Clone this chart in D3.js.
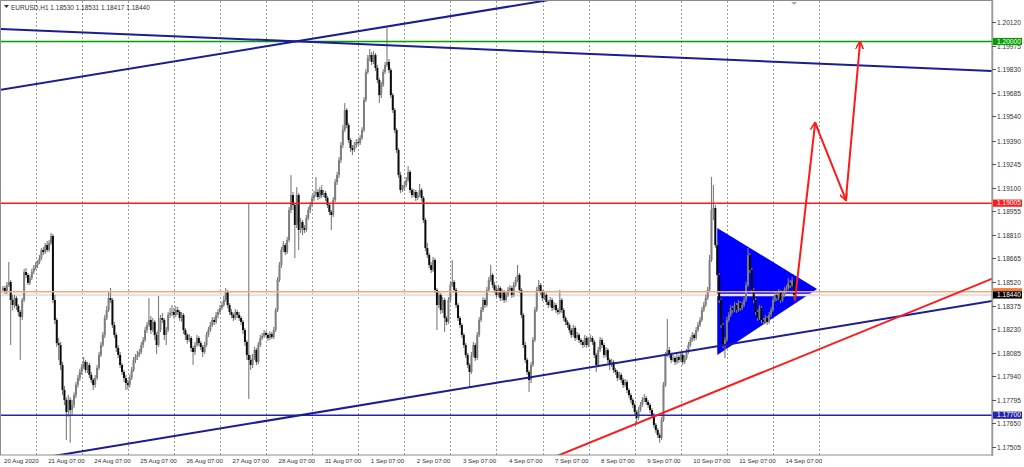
<!DOCTYPE html>
<html>
<head>
<meta charset="utf-8">
<script src="https://cdnjs.cloudflare.com/ajax/libs/d3/7.8.5/d3.min.js"></script>
<style>
  body { margin: 0; background: #fff; }
  svg { display: block; }
  text { font-family: "Liberation Sans", Arial, sans-serif; fill: #333; }
</style>
</head>
<body>
<svg id="chart" width="1024" height="467"></svg>
<script>
// EURUSD H1, prices in points: 18440 means 1.18440
var symbol = "EURUSD,H1";
var firstOpen = 18470;

var closes = [
  18483,18458,18501,18520,18409,18378,18421,18372,18335,18304,18409,18581,18563,18514,18544,18581,
  18606,18624,18643,18667,18717,18704,18747,18717,18760,18803,18409,18286,18144,18132,18009,17855,17794,17720,17794,17732,17763,17824,17886,17929,
  17966,17997,18028,17978,18009,17948,17917,17886,17929,17991,18071,18132,18194,18298,18347,18421,18409,18255,18194,18114,18071,18009,17966,17929,
  17898,17886,17929,17978,18040,18058,18071,18089,18132,18163,18224,18255,18286,18224,18274,18194,18132,18224,18298,18286,18194,18224,18317,18329,
  18335,18317,18347,18335,18298,18317,18224,18194,18163,18175,18114,18089,18132,18175,18144,18120,18089,18132,18194,18224,18255,18286,18274,18317,
  18335,18360,18378,18409,18458,18378,18335,18317,18298,18335,18317,18298,18274,18224,18151,18071,18040,18009,18052,18101,18028,18132,18175,18188,
  18206,18194,18175,18200,18181,18224,18347,18532,18624,18717,18747,18704,18778,18963,19055,18994,18871,19055,18840,18889,18852,18840,18914,18963,
  18994,19037,19055,19074,19043,19086,19055,19067,19037,18994,18951,18932,19024,19135,19178,19270,19363,19455,19578,19486,19394,19344,19332,19363,
  19381,19375,19406,19455,19640,19812,19898,19917,19874,19917,19837,19763,19670,19732,19812,19855,19874,19824,19670,19578,19455,19332,19178,19086,
  19098,19117,19147,19197,19086,19055,19074,19037,19055,19086,19037,18901,18729,18686,18624,18594,18655,18471,18378,18440,18347,18409,18298,18274,
  18409,18501,18520,18471,18378,18298,18255,18194,18132,18071,18009,17966,18071,18132,18052,18194,18286,18347,18409,18378,18471,18532,18563,18501,
  18471,18440,18483,18421,18458,18409,18440,18471,18483,18440,18501,18532,18563,18471,18317,18132,18040,17966,17917,18009,18163,18347,18471,18501,
  18458,18421,18440,18397,18378,18409,18360,18378,18347,18335,18409,18347,18298,18274,18255,18224,18194,18237,18175,18194,18163,18151,18132,18175,
  18132,18163,18175,18151,18071,18009,18101,18163,18132,18071,18101,18040,18009,18028,17978,17966,17929,17948,17917,17886,17904,17855,17824,17794,
  17763,17720,17683,17732,17763,17794,17806,17781,17763,17732,17701,17640,17609,17578,17560,17671,17886,18071,18101,18071,18040,18052,18028,18058,
  18040,18071,18028,18052,18089,18132,18163,18194,18175,18224,18255,18286,18347,18378,18421,18471,18655,18963,18975,18747,18563,18409,18255,18132,
  18163,18286,18317,18360,18347,18378,18347,18391,18360,18378,18409,18501,18686,18594,18471,18409,18335,18298,18360,18286,18274,18298,18274,18317,
  18347,18409,18440,18421,18458,18409,18440,18471,18483,18514,18501,18530,18440
];

var highs = [
  18495,18495,18520,18643,18532,18440,18440,18433,18384,18347,18421,18600,18606,18575,18563,18600,
  18624,18643,18655,18686,18729,18735,18760,18772,18778,18821,18815,18440,18298,18175,18151,18028,17880,17810,17824,17810,17794,17840,17904,17948,
  17985,18015,18058,18040,18028,18021,17966,17929,17948,18009,18089,18151,18212,18317,18372,18458,18483,18421,18274,18206,18132,18089,18021,17978,
  17948,17917,17948,17997,18058,18077,18095,18108,18151,18181,18243,18274,18421,18310,18298,18286,18212,18433,18317,18329,18298,18243,18335,18360,
  18378,18360,18372,18366,18347,18335,18329,18237,18206,18200,18187,18126,18151,18194,18187,18157,18132,18151,18212,18243,18274,18304,18304,18335,
  18353,18378,18397,18433,18483,18470,18390,18353,18329,18353,18347,18335,18310,18286,18237,18163,19006,18071,18077,18120,18114,18151,18194,18206,
  18224,18218,18206,18218,18212,18243,18360,18550,18643,18735,18772,18760,18797,18981,19178,19074,19006,19104,19067,18914,18901,18870,18932,18981,
  19012,19055,19080,19166,19092,19104,19117,19086,19080,19049,19006,18963,19043,19154,19197,19289,19381,19486,19621,19590,19498,19406,19363,19381,
  19400,19400,19424,19473,19658,19830,19917,19953,19935,19941,19929,19855,19775,19751,19830,19874,20083,19892,19837,19683,19590,19467,19344,19197,
  19117,19135,19166,19234,19209,19098,19092,19086,19074,19123,19098,19049,18914,18760,18698,18643,18674,18667,18483,18458,18452,18427,18421,18310,
  18427,18520,18655,18532,18483,18390,18310,18267,18206,18144,18083,18021,18089,18151,18144,18212,18304,18366,18427,18421,18489,18550,18625,18575,
  18520,18489,18501,18495,18477,18470,18458,18489,18501,18495,18520,18550,18625,18575,18483,18329,18151,18052,17978,18028,18181,18366,18489,18532,
  18514,18470,18458,18452,18409,18427,18421,18397,18390,18360,18471,18421,18360,18310,18286,18267,18237,18255,18249,18212,18206,18175,18163,18194,
  18187,18181,18194,18187,18163,18083,18120,18181,18175,18144,18120,18114,18052,18046,18040,17991,17978,17966,17960,17929,17923,17917,17867,17837,
  17806,17775,17732,17751,17781,17812,17830,17818,17794,17775,17745,17714,17652,17621,17591,17690,17904,18089,18292,18120,18083,18071,18064,18077,
  18071,18089,18083,18071,18108,18151,18181,18212,18206,18243,18274,18304,18366,18397,18440,18489,18686,19166,19117,18994,18766,18575,18421,18267,
  18181,18304,18335,18378,18372,18397,18390,18409,18403,18397,18427,18520,18729,18698,18606,18483,18421,18347,18378,18372,18298,18317,18310,18335,
  18366,18427,18458,18452,18477,18470,18458,18489,18501,18544,18532,18550,18531
];

var lows = [
  18458,18446,18446,18489,18132,18347,18360,18347,18310,18040,18286,18397,18544,18501,18501,18532,
  18569,18594,18606,18630,18655,18686,18692,18704,18704,18747,18390,18260,18120,18040,17978,17824,17763,17548,17690,17530,17700,17745,17806,17870,
  17910,17948,17985,17960,17960,17929,17898,17855,17870,17917,17978,18058,18120,18175,18286,18335,18390,18237,18175,18089,18052,17991,17948,17904,
  17855,17860,17870,17917,17966,18021,18040,18058,18077,18114,18151,18206,18243,18200,18212,18163,18077,18120,18212,18267,18163,18132,18212,18298,
  18310,18298,18304,18317,18280,18274,18200,18163,18140,18151,18089,18009,18071,18120,18126,18101,18058,18077,18120,18181,18212,18243,18255,18261,
  18298,18323,18347,18366,18397,18360,18317,18298,18280,18286,18298,18280,18255,18200,18126,18040,17800,17978,17991,18040,18009,18015,18120,18163,
  18175,18181,18157,18163,18169,18169,18212,18335,18520,18606,18704,18686,18692,18766,18944,18963,18667,18852,18717,18821,18809,18821,18827,18901,
  18944,18981,19018,19043,19024,19030,19037,19043,19018,18975,18932,18840,18920,19012,19117,19160,19252,19344,19443,19467,19375,19320,19301,19320,
  19344,19357,19363,19394,19443,19627,19800,19880,19855,19861,19818,19745,19621,19652,19720,19800,19843,19806,19652,19560,19437,19314,19160,19067,
  19074,19080,19104,19135,19067,19037,19043,19018,19024,19043,19018,18883,18710,18667,18606,18575,18581,18452,18224,18360,18323,18329,18212,18255,
  18261,18397,18489,18452,18360,18280,18237,18175,18114,18052,17991,17870,17954,18058,18034,18040,18181,18274,18335,18360,18366,18458,18520,18483,
  18452,18421,18427,18403,18403,18390,18397,18427,18458,18421,18427,18489,18520,18452,18298,18114,18021,17948,17843,17898,17997,18151,18335,18458,
  18440,18403,18409,18378,18360,18366,18341,18347,18329,18317,18323,18329,18280,18255,18237,18206,18175,18181,18157,18163,18144,18132,18114,18120,
  18114,18120,18151,18132,18052,17966,17997,18089,18114,18052,18058,18021,17978,17997,17960,17948,17910,17917,17898,17867,17873,17837,17806,17775,
  17745,17701,17640,17671,17720,17751,17781,17763,17745,17714,17683,17621,17591,17560,17530,17548,17658,17873,18058,18052,18021,18028,18009,18015,
  18021,18028,18009,18015,18040,18077,18120,18151,18157,18163,18212,18243,18274,18335,18366,18409,18458,18643,18900,18729,18544,18390,18237,18114,
  18052,18151,18274,18304,18329,18335,18329,18335,18341,18347,18366,18397,18489,18575,18452,18390,18317,18280,18286,18267,18255,18261,18255,18261,
  18304,18335,18397,18403,18409,18390,18397,18427,18458,18470,18483,18489,18417
];

var priceTicks = [1.20120, 1.19975, 1.19830, 1.19685, 1.19540, 1.19390, 1.19245, 1.19100, 1.18955,
  1.18810, 1.18665, 1.18520, 1.18375, 1.18230, 1.18085, 1.17940, 1.17795, 1.17650, 1.17505];

var timeLabels = ["20 Aug 2020", "21 Aug 07:00", "24 Aug 07:00", "25 Aug 07:00", "26 Aug 07:00",
  "27 Aug 07:00", "28 Aug 07:00", "31 Aug 07:00", "1 Sep 07:00", "2 Sep 07:00", "3 Sep 07:00",
  "4 Sep 07:00", "7 Sep 07:00", "8 Sep 07:00", "9 Sep 07:00", "10 Sep 07:00", "11 Sep 07:00", "14 Sep 07:00"];

// horizontal levels
var greenLevel = 1.20000, redLevel = 1.19005, orangeLevel = 1.18460, blueLevel = 1.17700;

// drawn objects, as [bar index, price]
var trendLines = [
  [[0, 1.19705], [278, 1.20243]],
  [[0, 1.20077], [515, 1.19819]],
  [[30, 1.17456], [515, 1.18403]]
];
var redTrend = [[290, 1.17456], [515, 1.18539]];
var triangle = [[372, 1.18852], [372, 1.18071], [424, 1.18477]];
var arrowPath = [[412.5, 1.18409], [423, 1.19499], [439, 1.19025], [446.4, 1.19997]];

(function() {
  var svg = d3.select("#chart");
  var left = 1, right = 992, top = 1, bottom = 455;
  var toPrice = function(p) { return 1 + p / 100000; };

  var bars = closes.map(function(c, i) {
    return { i: i, o: toPrice(i ? closes[i - 1] : firstOpen), h: toPrice(highs[i]), l: toPrice(lows[i]), c: toPrice(c) };
  });
  var last = bars[bars.length - 1];

  // trading hours, weekends skipped
  var times = [];
  var t = Date.UTC(2020, 7, 20, 8);
  while (times.length < 520) {
    var d = new Date(t), wd = d.getUTCDay();
    if (wd !== 0 && wd !== 6) times.push(d);
    t += 3600000;
  }
  var fmt = d3.utcFormat("%-d %b %H:%M");

  var x = d3.scaleLinear().domain([0, 515]).range([3, 3 + 515 * 1.92]);
  var y = d3.scaleLinear().domain([1.17455, 1.20243]).range([bottom, 2]);

  svg.append("rect").attr("width", 1024).attr("height", 467).attr("fill", "#fff");

  svg.append("clipPath").attr("id", "plot").append("rect")
    .attr("x", left).attr("y", top).attr("width", right - left).attr("height", bottom - top);
  var plot = svg.append("g").attr("clip-path", "url(#plot)");

  // vertical dotted grid
  var gridIdx = [];
  times.forEach(function(tm, i) { if (tm.getUTCHours() === 1 && i <= 430) gridIdx.push(i); });
  plot.selectAll("line.grid").data(gridIdx).enter().append("line")
    .attr("x1", function(d) { return Math.round(x(d)) + 0.5; })
    .attr("x2", function(d) { return Math.round(x(d)) + 0.5; })
    .attr("y1", top).attr("y2", bottom)
    .attr("stroke", "#9a9a9a").attr("stroke-width", 1).attr("stroke-dasharray", "2,2");

  // triangle behind candles
  plot.append("path")
    .attr("d", d3.line().x(function(d) { return x(d[0]); }).y(function(d) { return y(d[1]); })(triangle) + "Z")
    .attr("fill", "#0000ff");

  // bid line band
  plot.append("line").attr("x1", left).attr("x2", right)
    .attr("y1", y(last.c)).attr("y2", y(last.c))
    .attr("stroke", "#e4e4e4").attr("stroke-width", 2.5);

  // candles
  var cg = plot.append("g");
  cg.selectAll("rect.wick").data(bars).enter().append("rect")
    .attr("x", function(d) { return x(d.i) - 0.55; })
    .attr("width", 1.1)
    .attr("y", function(d) { return y(Math.max(d.h, d.o, d.c)); })
    .attr("height", function(d) { return Math.max(1, y(Math.min(d.l, d.o, d.c)) - y(Math.max(d.h, d.o, d.c))); })
    .attr("fill", "#7c7c7c");
  cg.selectAll("rect.body").data(bars).enter().append("rect")
    .attr("x", function(d) { return x(d.i) - 1; })
    .attr("width", 2)
    .attr("y", function(d) { return y(Math.max(d.o, d.c)); })
    .attr("height", function(d) { return Math.max(0.8, Math.abs(y(d.o) - y(d.c))); })
    .attr("fill", function(d) { return d.c >= d.o ? "#7e7e7e" : "#0a0a0a"; });

  // horizontal levels
  var hl = function(price, color) {
    plot.append("line").attr("x1", left).attr("x2", right)
      .attr("y1", y(price)).attr("y2", y(price))
      .attr("stroke", color).attr("stroke-width", 1.5);
  };
  hl(greenLevel, "#00a000");
  hl(redLevel, "#ff1a1a");
  hl(orangeLevel, "#f7a57a");
  hl(blueLevel, "#2424b0");

  // trend lines, extended to the chart edges
  var ext = function(seg) {
    var a = seg[0], b = seg[1], k = (b[1] - a[1]) / (b[0] - a[0]);
    var i0 = -5, i1 = 520;
    return [[x(i0), y(a[1] + k * (i0 - a[0]))], [x(i1), y(a[1] + k * (i1 - a[0]))]];
  };
  trendLines.forEach(function(seg) {
    var p = ext(seg);
    plot.append("line").attr("x1", p[0][0]).attr("y1", p[0][1]).attr("x2", p[1][0]).attr("y2", p[1][1])
      .attr("stroke", "#1c1c96").attr("stroke-width", 2);
  });
  var pr = ext(redTrend);
  plot.append("line").attr("x1", pr[0][0]).attr("y1", pr[0][1]).attr("x2", pr[1][0]).attr("y2", pr[1][1])
    .attr("stroke", "#ff1a1a").attr("stroke-width", 2);

  // red arrows
  svg.append("defs").append("marker").attr("id", "ah")
    .attr("viewBox", "0 0 10 10").attr("refX", 9).attr("refY", 5)
    .attr("markerWidth", 4).attr("markerHeight", 4).attr("orient", "auto")
    .append("path").attr("d", "M0,0 L10,5 L0,10").attr("fill", "none").attr("stroke", "#ff1a1a").attr("stroke-width", 2);
  for (var s = 0; s < arrowPath.length - 1; s++) {
    plot.append("line")
      .attr("x1", x(arrowPath[s][0])).attr("y1", y(arrowPath[s][1]))
      .attr("x2", x(arrowPath[s + 1][0])).attr("y2", y(arrowPath[s + 1][1]))
      .attr("stroke", "#ff1a1a").attr("stroke-width", 2).attr("stroke-linecap", "round")
      .attr("marker-end", "url(#ah)");
  }

  // shift marker
  var sx = x(bars.length - 1);
  svg.append("path").attr("d", "M" + (sx - 3) + ",2 L" + (sx + 3) + ",2 L" + sx + ",5 Z").attr("fill", "#aaa");

  // frame
  svg.append("rect").attr("x", 0.5).attr("y", 0.5).attr("width", right - 0.5).attr("height", bottom - 0.5)
    .attr("fill", "none").attr("stroke", "#8c8c8c").attr("stroke-width", 1);
  svg.append("line").attr("x1", right + 0.5).attr("x2", right + 0.5).attr("y1", 0).attr("y2", bottom + 1)
    .attr("stroke", "#9a9a9a").attr("stroke-width", 1.5);

  // price axis
  var ax = svg.append("g");
  priceTicks.forEach(function(p) {
    var yy = Math.round(y(p)) + 0.5;
    ax.append("line").attr("x1", right).attr("x2", right + 4).attr("y1", yy).attr("y2", yy).attr("stroke", "#555");
    ax.append("text").attr("x", 997).attr("y", yy + 2.3).attr("font-size", "6.6px").text(p.toFixed(5));
  });
  var tag = function(price, color, label) {
    var yy = y(price);
    ax.append("rect").attr("x", right + 1).attr("y", yy - 3.6).attr("width", 29).attr("height", 7.2).attr("fill", color);
    if (label) ax.append("text").attr("x", 997).attr("y", yy + 2.3).attr("font-size", "6.6px").style("fill", "#fff").text(label);
  };
  tag(greenLevel, "#00a000", greenLevel.toFixed(5));
  tag(redLevel, "#ff1a1a", redLevel.toFixed(5));
  tag(orangeLevel, "#f08040", null); // hidden under the bid tag
  tag(last.c, "#000", last.c.toFixed(5));
  tag(blueLevel, "#2424b0", blueLevel.toFixed(5));

  // time axis
  var tg = svg.append("g");
  timeLabels.forEach(function(lab, k) {
    var idx = 0;
    if (k > 0) times.forEach(function(tm, i) { if (fmt(tm) === lab) idx = i; });
    tg.append("text").attr("x", x(idx) + 1).attr("y", 463).attr("font-size", "6.2px").text(lab);
  });

  // header
  svg.append("path").attr("d", "M4,5 L9,5 L6.5,8 Z").attr("fill", "#333");
  svg.append("text").attr("x", 11).attr("y", 10).attr("font-size", "6.5px")
    .text(symbol + "  " + [last.o, last.h, last.l, last.c].map(function(v) { return v.toFixed(5); }).join(" "));
})();
</script>
</body>
</html>
